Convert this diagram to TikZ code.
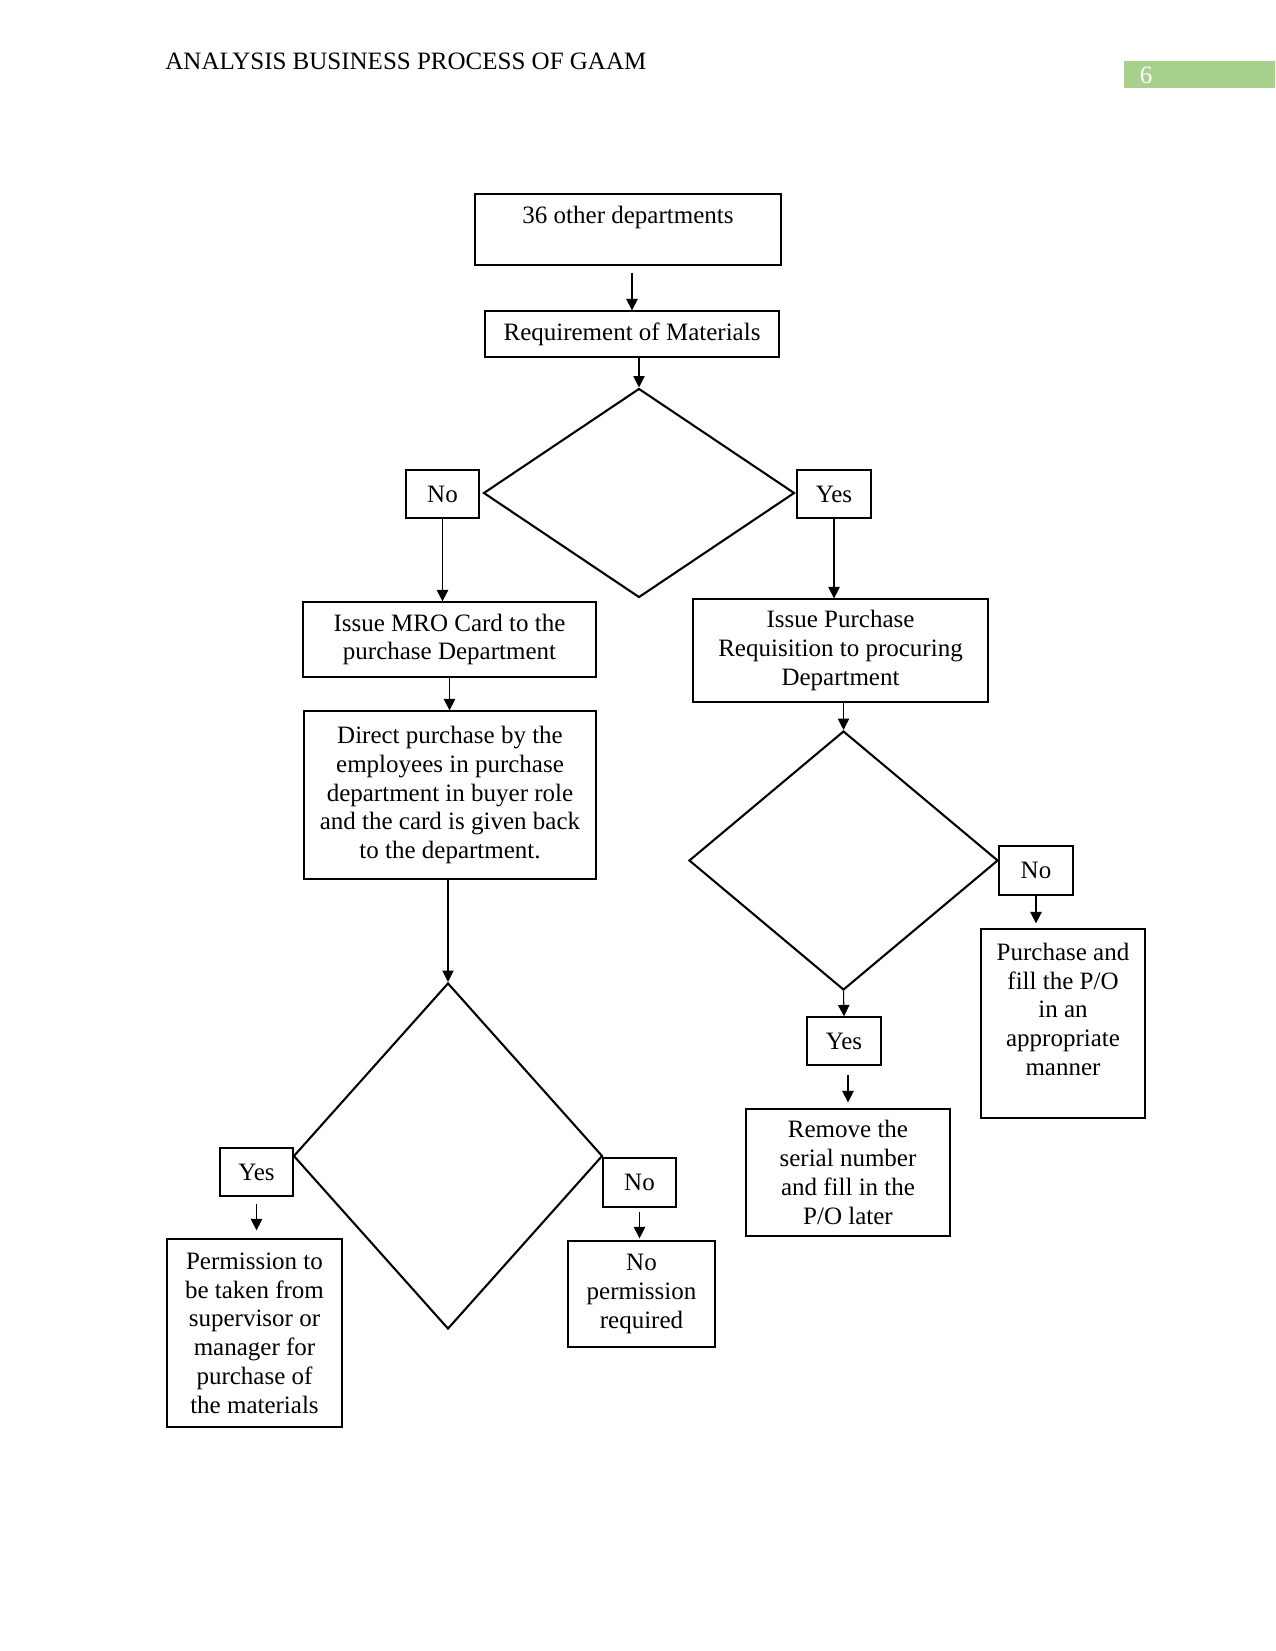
\documentclass[tikz,border=0pt]{standalone}
\usepackage{fontspec}
\setmainfont{Liberation Serif}
\usetikzlibrary{shapes.geometric,arrows.meta}
\newcommand\px{0.48pt}
\definecolor{pagegreen}{RGB}{168,208,141}
\begin{document}
\begin{tikzpicture}[x=\px,y=-\px,
  font=\fontsize{12}{13.8}\selectfont,
  sz/.style 2 args={minimum width=#1*\px,minimum height=#2*\px},
  box/.style={draw,line width=0.6pt,inner sep=0pt,align=center},
  choice/.style={draw,diamond,line width=1pt,inner sep=0pt},
  flow/.style={-{Triangle[width=5.5pt,length=5.5pt]},line width=0.5pt}]

\useasboundingbox (0,0) rectangle (1275,1651);

\node[anchor=west,inner sep=0pt] (title) at (165,61) {ANALYSIS BUSINESS PROCESS OF GAAM};
\node[fill=pagegreen,inner sep=0pt,sz={151}{27},anchor=north west] (pgbar) at (1124,61) {};
\node[text=white] (pgnum) at (1146,75) {6};

\node[box,sz={306}{71}] (dep) at (628,229.5) {36 other departments\\ ~};
\node[box,sz={294}{46}] (req) at (632,334) {Requirement of Materials};
\node[choice,sz={311}{209}] (d1) at (639,493) {};
\node[box,sz={73}{48}] (no1) at (442.5,494) {No};
\node[box,sz={74}{48}] (yes1) at (834,494) {Yes};

\node[box,sz={293}{75}] (mro) at (449.5,639.5) {Issue MRO Card to the\\purchase Department};
\node[box,sz={292}{168}] (direct) at (450,795) {Direct purchase by the\\employees in purchase\\department in buyer role\\and the card is given back\\to the department.};
\node[choice,sz={309}{346}] (d3) at (448,1156) {};
\node[box,sz={73}{48}] (yes3) at (256.5,1172) {Yes};
\node[box,sz={73}{49}] (no3) at (639.5,1182.5) {No};
\node[box,sz={175}{188}] (perm) at (254.5,1333) {Permission to\\be taken from\\supervisor or\\manager for\\purchase of\\the materials};
\node[box,sz={147}{106}] (noperm) at (641.5,1294) {No\\permission\\required};

\node[box,sz={295}{103}] (pr) at (840.5,650.5) {Issue Purchase\\Requisition to procuring\\Department};
\node[choice,sz={309}{259}] (d2) at (843.5,860.5) {};
\node[box,sz={74}{49}] (no2) at (1036,870.5) {No};
\node[box,sz={164}{189}] (pur) at (1063,1023.5) {Purchase and\\fill the P/O\\in an\\appropriate\\manner\\ ~};
\node[box,sz={74}{48}] (yes2) at (844,1041) {Yes};
\node[box,sz={204}{127}] (rem) at (848,1172.5) {Remove the\\serial number\\and fill in the\\P/O later};

\draw[flow,shorten <=7*\px] (req.north |- dep.south) -- (req.north);
\draw[flow] (d1.north |- req.south) -- (d1.north);
\draw[flow] (no1.south) -- (no1.south |- mro.north);
\draw[flow] (yes1.south) -- (yes1.south |- pr.north);
\draw[flow] (mro.south) -- (mro.south |- direct.north);
\draw[flow] (direct.south -| d3.north) -- (d3.north);
\draw[flow,shorten <=7*\px,shorten >=8*\px] (yes3.south) -- (yes3.south |- perm.north);
\draw[flow,shorten <=4*\px,shorten >=2*\px] (no3.south) -- (no3.south |- noperm.north);
\draw[flow] (d2.north |- pr.south) -- (d2.north);
\draw[flow,shorten >=5*\px] (no2.south) -- (no2.south |- pur.north);
\draw[flow] (d2.south) -- (yes2.north);
\draw[flow,shorten <=9*\px,shorten >=6*\px] (yes2.south -| rem.north) -- (rem.north);

\end{tikzpicture}
\end{document}
